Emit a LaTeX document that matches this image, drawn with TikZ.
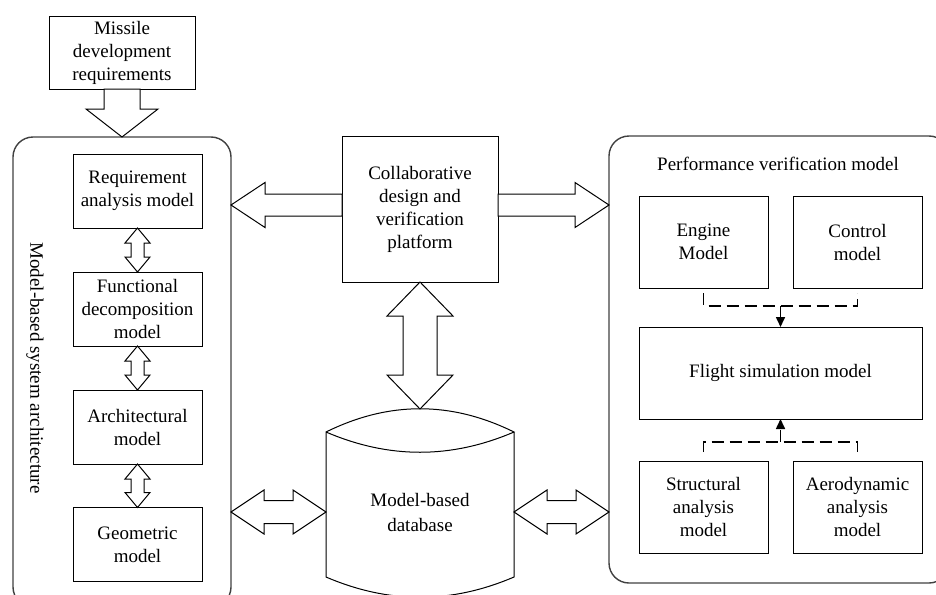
\documentclass[tikz,border=0pt]{standalone}
\usepackage{fontspec}
\setmainfont{Liberation Serif}
\usetikzlibrary{arrows.meta,calc,positioning}

% double hollow arrow, vertical: top tip, bottom tip, shaft half, head half, head length
\newcommand{\vbiarrow}[5]{%
  \draw[hollow] (#1) -- ($(#1)+(#4,#5)$) -- ($(#1)+(#3,#5)$) -- ($(#2)+(#3,-#5)$) -- ($(#2)+(#4,-#5)$) -- (#2)
    -- ($(#2)+(-#4,-#5)$) -- ($(#2)+(-#3,-#5)$) -- ($(#1)+(-#3,#5)$) -- ($(#1)+(-#4,#5)$) -- cycle;}
% double hollow arrow, horizontal: left tip, right tip, shaft half, head half, head length
\newcommand{\hbiarrow}[5]{%
  \draw[hollow] (#1) -- ($(#1)+(#5,-#4)$) -- ($(#1)+(#5,-#3)$) -- ($(#2)+(-#5,-#3)$) -- ($(#2)+(-#5,-#4)$) -- (#2)
    -- ($(#2)+(-#5,#4)$) -- ($(#2)+(-#5,#3)$) -- ($(#1)+(#5,#3)$) -- ($(#1)+(#5,#4)$) -- cycle;}

\begin{document}
\begin{tikzpicture}[
    x=0.5pt, y=-0.5pt,
    font=\fontsize{9.5}{11.5}\selectfont,
    box/.style={
      draw, line width=0.5pt, align=center, inner sep=1pt, outer sep=0pt,
      minimum width=64.5pt, minimum height=37pt
    },
    frame/.style={
      draw=black!75, line width=0.7pt, rounded corners=10pt, outer sep=0pt
    },
    hollow/.style={draw, line width=0.5pt, fill=white, line join=miter},
    dashline/.style={line width=0.8pt, dash pattern=on 6pt off 3pt},
    >={Triangle[length=5pt,width=4.5pt]}
  ]

  \useasboundingbox (0,0) rectangle (936,594);
  \clip (0,0) rectangle (936,594);

  %% Outer frames
  \node[frame, minimum width=109pt, minimum height=235pt] (lsys) at (122,372) {};
  \node[frame, minimum width=170pt, minimum height=223.5pt] (perf) at (779,359.5) {};
  \node[rotate=-90] (ltitle) at (35,368) {Model-based system architecture};
  \node (ptitle) at (778,164) {Performance verification model};

  %% Requirements input
  \node[box, minimum width=73pt, minimum height=36.5pt] (miss) at (122,52.5) {Missile\\development\\requirements};

  %% Left column
  \node[box] (req)  at (137.5,191)   {Requirement\\analysis model};
  \node[box] (func) at (137.5,309)   {Functional\\decomposition\\model};
  \node[box] (arch) at (137.5,427)   {Architectural\\model};
  \node[box] (geo)  at (137.5,544.5) {Geometric\\model};

  %% Platform and database
  \node[box, minimum width=78pt, minimum height=73pt] (plat) at (420,209) {Collaborative\\design and\\verification\\platform};
  \node[minimum width=94pt, minimum height=72.5pt, outer sep=0pt] (db) at (420,504.5) {};
  \node[align=center] (dbtext) at (420,512) {Model-based\\[1pt]database};
  \draw[line width=0.5pt] (db.north west) .. controls +(63,-31) and +(-63,-31) .. (db.north east)
    .. controls +(-63,27) and +(63,27) .. (db.north west) -- (db.south west)
    .. controls +(63,27) and +(-63,27) .. (db.south east) -- (db.north east);
  \coordinate (dbtip) at ($(db.north)+(0,-23)$);

  %% Right column
  \node[box, minimum height=46pt] (eng)    at (703.5,242) {Engine\\Model};
  \node[box, minimum height=46pt] (ctrl)   at (857.5,242) {Control\\model};
  \node[box, minimum width=141.5pt, minimum height=46pt] (flight) at (780.5,373) {Flight simulation model};
  \node[box, minimum height=46pt] (struct) at (703.5,507) {Structural\\analysis\\model};
  \node[box, minimum height=46pt] (aero)   at (857.5,507) {Aerodynamic\\analysis\\model};

  %% Hollow arrows
  \coordinate (mtip) at (miss.south |- lsys.north);
  \draw[hollow] ($(miss.south)+(-18,0)$) -- ($(mtip)+(-18,-28)$) -- ($(mtip)+(-36,-28)$) -- (mtip)
    -- ($(mtip)+(36,-28)$) -- ($(mtip)+(18,-28)$) -- ($(miss.south)+(18,0)$) -- cycle;

  \coordinate (pl) at ($(plat.west)+(0,-4)$);
  \coordinate (pltip) at (lsys.east |- pl);
  \draw[hollow] ($(pl)+(0,-11)$) -- ($(pltip)+(34,-11)$) -- ($(pltip)+(34,-22.5)$) -- (pltip)
    -- ($(pltip)+(34,22.5)$) -- ($(pltip)+(34,11)$) -- ($(pl)+(0,11)$) -- cycle;

  \coordinate (pr) at ($(plat.east)+(0,-4)$);
  \coordinate (prtip) at (perf.west |- pr);
  \draw[hollow] ($(pr)+(0,-11)$) -- ($(prtip)+(-34,-11)$) -- ($(prtip)+(-34,-22.5)$) -- (prtip)
    -- ($(prtip)+(-34,22.5)$) -- ($(prtip)+(-34,11)$) -- ($(pr)+(0,11)$) -- cycle;

  \vbiarrow{req.south}{func.north}{6.5}{12.5}{15}
  \vbiarrow{func.south}{arch.north}{6.5}{12.5}{15}
  \vbiarrow{arch.south}{geo.north}{6.5}{12.5}{15}
  \vbiarrow{plat.south}{dbtip}{17}{33}{34}

  \coordinate (lsysE) at (lsys.east |- dbtext);
  \coordinate (dbW)   at (db.west |- dbtext);
  \coordinate (dbE)   at (db.east |- dbtext);
  \coordinate (perfW) at (perf.west |- dbtext);
  \hbiarrow{lsysE}{dbW}{11.5}{22}{33}
  \hbiarrow{dbE}{perfW}{11.5}{22}{33}

  %% Dashed links in performance model
  \draw[dashline] ($(eng.south)+(0,5)$) |- ($(ctrl.south)+(0,18)$) -- ($(ctrl.south)+(0,5)$);
  \draw[dashline, ->] ($(flight.north)+(0,-21)$) -- (flight.north);
  \draw[dashline] ($(struct.north)+(0,-9)$) |- ($(aero.north)+(0,-19)$) -- ($(aero.north)+(0,-9)$);
  \draw[dashline, ->] ($(flight.south)+(0,23)$) -- (flight.south);

\end{tikzpicture}
\end{document}
